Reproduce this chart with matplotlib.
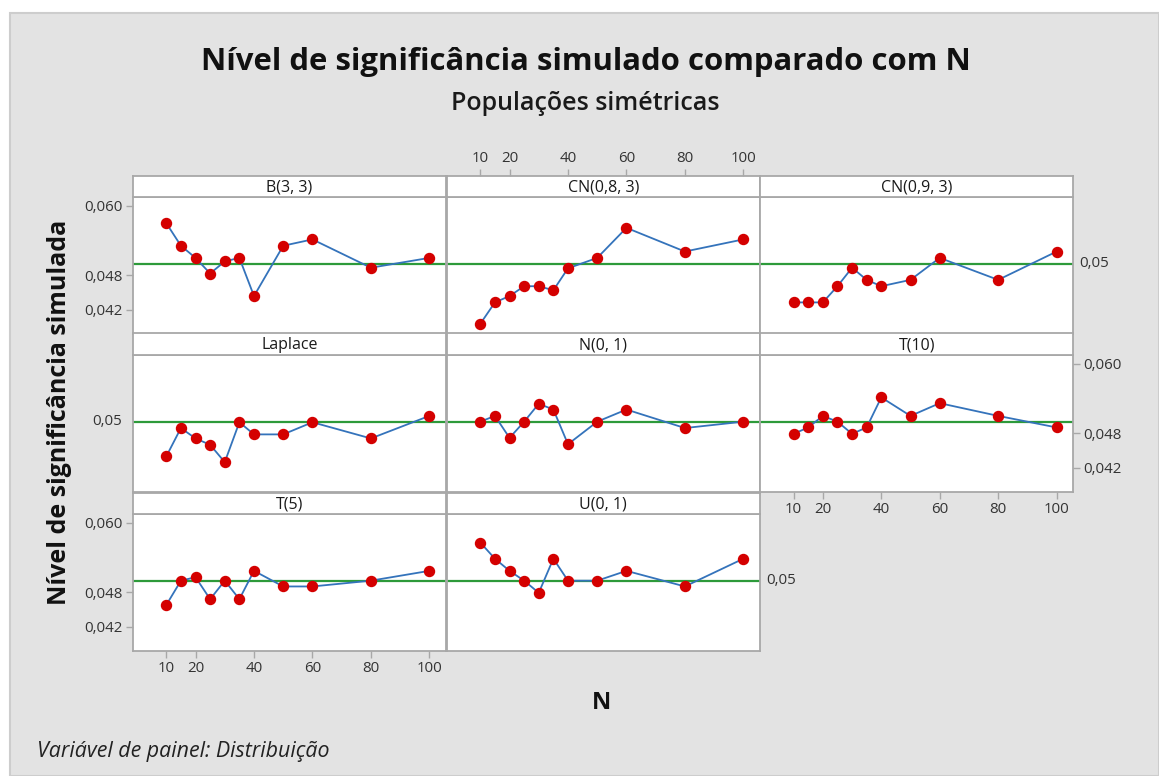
import matplotlib
matplotlib.use("Agg")
import matplotlib.pyplot as plt
from matplotlib.patches import Rectangle
import matplotlib.transforms as mtransforms

plt.rcParams['font.family'] = ['Open Sans', 'DejaVu Sans']

# ---------------- data ----------------
N = [10, 15, 20, 25, 30, 35, 40, 50, 60, 80, 100]
panel_names = ["B(3, 3)", "CN(0,8, 3)", "CN(0,9, 3)",
               "Laplace", "N(0, 1)", "T(10)",
               "T(5)", "U(0, 1)"]
b33 = [0.0570, 0.0531, 0.0510, 0.0483, 0.0504, 0.0510, 0.0444, 0.0531, 0.0542, 0.0493, 0.0510]
cn083 = [0.0396, 0.0433, 0.0444, 0.0461, 0.0461, 0.0454, 0.0492, 0.0510, 0.0562, 0.0521, 0.0542]
cn093 = [0.0433, 0.0433, 0.0433, 0.0461, 0.0493, 0.0472, 0.0461, 0.0472, 0.0510, 0.0472, 0.0521]
laplace = [0.0440, 0.0489, 0.0471, 0.0460, 0.0430, 0.0499, 0.0478, 0.0478, 0.0499, 0.0471, 0.0510]
n01 = [0.0500, 0.0510, 0.0472, 0.0500, 0.0531, 0.0521, 0.0461, 0.0500, 0.0521, 0.0489, 0.0500]
t10 = [0.0479, 0.0490, 0.0510, 0.0500, 0.0479, 0.0490, 0.0542, 0.0510, 0.0532, 0.0510, 0.0490]
t5 = [0.0458, 0.0500, 0.0506, 0.0468, 0.0500, 0.0468, 0.0517, 0.0490, 0.0490, 0.0500, 0.0517]
u01 = [0.0566, 0.0538, 0.0517, 0.0500, 0.0479, 0.0538, 0.0500, 0.0500, 0.0517, 0.0490, 0.0538]
series = [b33, cn083, cn093, laplace, n01, t10, t5, u01]

ref_level = 0.05
ref_label = "0,05"
xticks = [10, 20, 40, 60, 80, 100]
xticklabels = ["10", "20", "40", "60", "80", "100"]
yticks = [0.042, 0.048, 0.060]
yticklabels = ["0,042", "0,048", "0,060"]

title = "Nível de significância simulado comparado com N"
subtitle = "Populações simétricas"
ylabel = "Nível de significância simulada"
xlabel = "N"
footnote = "Variável de painel: Distribuição"

# ---------------- layout ----------------
W, H = 1159, 776
fig = plt.figure(figsize=(W / 100, H / 100), dpi=100, facecolor="white")

def fx(px):
    return px / W

def fy(py):
    return 1 - py / H

bg = Rectangle((fx(10), 0), 1 - fx(10), fy(13), transform=fig.transFigure,
               facecolor="#e3e3e3", edgecolor="#cdcdcd", lw=1.5, zorder=-10)
fig.patches.append(bg)

col_x = [132.7, 446.7, 760.0]
col_w = 313.3
strip_tops = [175.5, 333.5, 492.5]
strip_h = 21.7
plot_h = 137.0

xlim = (-1.5, 105.7)
ylim = (0.0378, 0.0615)

frame_col = "#a8a8a8"
tick_col = "#333333"
line_blue = "#3473bb"
dot_red = "#d40000"
ref_green = "#2d9a3a"
fs_tick = 10.8
fs_strip = 11.5

for i, (name, vals) in enumerate(zip(panel_names, series)):
    r, c = divmod(i, 3)
    x0 = col_x[c]
    st = strip_tops[r]
    pt = st + strip_h
    ax = fig.add_axes([fx(x0), fy(pt + plot_h), col_w / W, plot_h / H])
    sax = fig.add_axes([fx(x0), fy(pt), col_w / W, strip_h / H])
    for a in (ax, sax):
        a.set_facecolor("white")
        for s in a.spines.values():
            s.set_color(frame_col)
            s.set_linewidth(1.3)
        a.set_xlim(*xlim)
        a.tick_params(left=False, right=False, bottom=False, top=False,
                      labelleft=False, labelright=False, labelbottom=False, labeltop=False,
                      colors=tick_col, labelsize=fs_tick, length=5, width=1)
    sax.set_yticks([])
    sax.set_xticks([])
    sax.text(0.5, 0.45, name, transform=sax.transAxes, ha="center", va="center",
             fontsize=fs_strip, color="#1a1a1a")

    ax.set_ylim(*ylim)
    ax.axhline(ref_level, color=ref_green, lw=1.6, zorder=2)
    ax.plot(N, vals, color=line_blue, lw=1.3, zorder=3)
    ax.plot(N, vals, linestyle="none", marker="o", ms=7.2, mfc=dot_red, mec=dot_red, zorder=4)

    ax.set_xticks(xticks)
    ax.set_xticklabels(xticklabels)
    ax.set_yticks(yticks)
    ax.set_yticklabels(yticklabels)
    ax.tick_params(axis="both", colors=frame_col, labelcolor=tick_col, labelsize=fs_tick,
                   length=5, width=1)

    # y axis ticks (Minitab alternating pattern)
    if (r, c) in [(0, 0), (2, 0)]:
        ax.tick_params(axis="y", left=True, labelleft=True, pad=2)
    if (r, c) == (1, 2):
        ax.tick_params(axis="y", right=True, labelright=True, pad=2)
    # x axis ticks
    if (r, c) in [(2, 0), (1, 2)]:
        ax.tick_params(axis="x", bottom=True, labelbottom=True, pad=2)
    if (r, c) == (0, 1):
        sax.set_xticks(xticks)
        sax.set_xticklabels(xticklabels)
        sax.tick_params(axis="x", top=True, labeltop=True, colors=frame_col,
                        labelcolor=tick_col, labelsize=fs_tick, length=5, width=1, pad=2)

    # reference-line labels
    trans = mtransforms.blended_transform_factory(ax.transAxes, ax.transData)
    if (r, c) == (0, 2):
        ax.text(1.02, ref_level, ref_label, transform=trans, ha="left", va="center",
                fontsize=fs_tick, color=tick_col)
    if (r, c) == (1, 0):
        ax.text(-0.035, ref_level, ref_label, transform=trans, ha="right", va="center",
                fontsize=fs_tick, color=tick_col)
    if (r, c) == (2, 1):
        ax.text(1.02, ref_level, ref_label, transform=trans, ha="left", va="center",
                fontsize=fs_tick, color=tick_col)

fig.text(fx(586), fy(62), title, ha="center", va="center", fontsize=22.4,
         fontweight="bold", color="#111111")
fig.text(fx(585), fy(103), subtitle, ha="center", va="center", fontsize=18,
         fontweight="semibold", color="#1a1a1a")
fig.text(fx(60), fy(412), ylabel, ha="center", va="center", rotation=90,
         fontsize=18, fontweight="bold", color="#111111")
fig.text(fx(601), fy(703), xlabel, ha="center", va="center", fontsize=17,
         fontweight="bold", color="#111111")
fig.text(fx(37), fy(752), footnote, ha="left", va="center", fontsize=15.4,
         fontstyle="italic", color="#222222")

fig.savefig("out.png", dpi=100, facecolor=fig.get_facecolor())
